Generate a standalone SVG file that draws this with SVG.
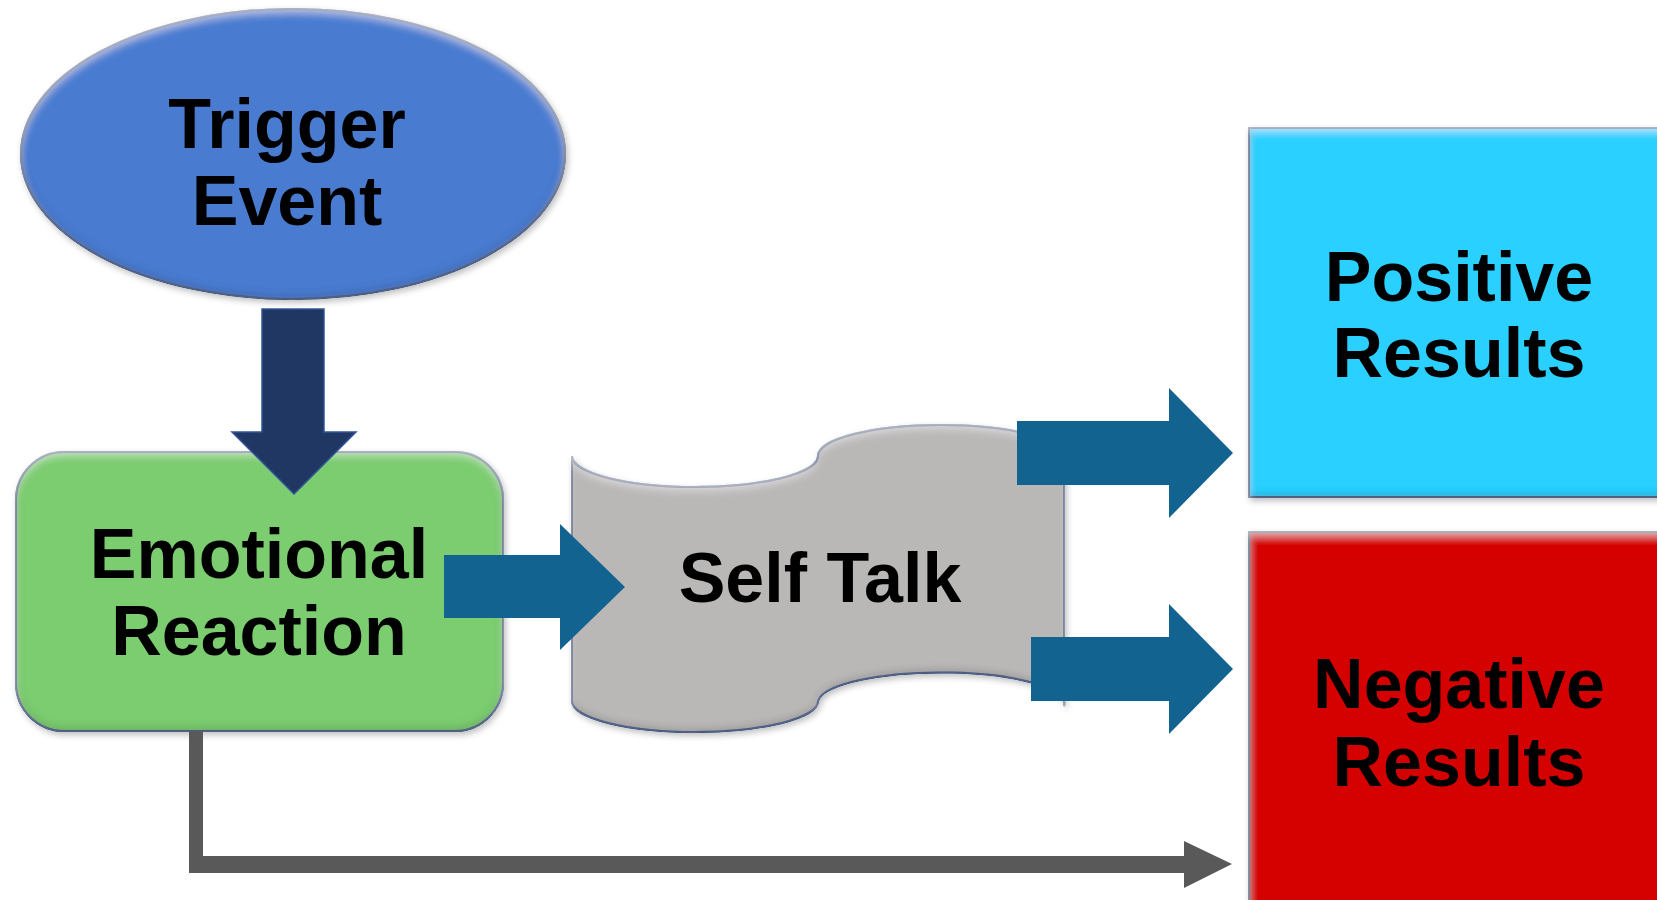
<svg xmlns="http://www.w3.org/2000/svg" width="1657" height="900" viewBox="0 0 1657 900">
<style>
.lbl{font-family:"Liberation Sans",Arial,sans-serif;font-weight:bold;font-size:70px;fill:#000;text-anchor:middle}
.node{stroke:#34558A;stroke-width:2}
.blue{fill:#136391}
</style>
<defs>
<filter id="bevel" x="-5%" y="-5%" width="110%" height="115%">
<feGaussianBlur in="SourceAlpha" stdDeviation="4" result="b"/>
<feOffset in="b" dy="-3" result="bo"/>
<feComposite in="SourceAlpha" in2="bo" operator="arithmetic" k2="1" k3="-1" result="edgeDark"/>
<feFlood flood-color="#000" flood-opacity="0.45"/>
<feComposite in2="edgeDark" operator="in" result="dark"/>
<feOffset in="b" dy="4" result="bo2"/>
<feComposite in="SourceAlpha" in2="bo2" operator="arithmetic" k2="1" k3="-1" result="edgeLight"/>
<feFlood flood-color="#fff" flood-opacity="0.5"/>
<feComposite in2="edgeLight" operator="in" result="light"/>
<feGaussianBlur in="SourceAlpha" stdDeviation="3" result="sh"/>
<feOffset in="sh" dx="2" dy="3" result="sho"/>
<feFlood flood-color="#000" flood-opacity="0.25"/>
<feComposite in2="sho" operator="in" result="drop"/>
<feMerge><feMergeNode in="drop"/><feMergeNode in="SourceGraphic"/><feMergeNode in="dark"/><feMergeNode in="light"/></feMerge>
</filter>
</defs>

<g id="trigger-event">
<ellipse class="node" cx="293" cy="154" rx="272" ry="145" fill="#4A7BD0" filter="url(#bevel)"/>
<text class="lbl" x="287" y="148">Trigger</text>
<text class="lbl" x="287" y="225">Event</text>
</g>

<g id="emotional-reaction">
<rect class="node" x="16" y="452" width="487" height="279" rx="48" ry="48" fill="#7BCC70" filter="url(#bevel)"/>
<text class="lbl" x="259" y="578">Emotional</text>
<text class="lbl" x="259" y="655">Reaction</text>
</g>

<g id="self-talk">
<path class="node" fill="#BAB7B7" filter="url(#bevel)" d="M572,456 A123,31 0 0 0 818,456 A123,31 0 0 1 1064,456 L1064,706 A123,31 0 0 0 818,701 A123,31 0 0 1 572,701 Z"/>
<text class="lbl" x="820" y="602">Self Talk</text>
</g>

<g id="positive-results">
<rect class="node" x="1249" y="128" width="420" height="369" fill="#29D0FF" filter="url(#bevel)"/>
<text class="lbl" x="1459" y="301">Positive</text>
<text class="lbl" x="1459" y="377">Results</text>
</g>

<g id="negative-results">
<rect class="node" x="1249" y="532" width="420" height="380" fill="#D50606" filter="url(#bevel)"/>
<text class="lbl" x="1459" y="708">Negative</text>
<text class="lbl" x="1459" y="786">Results</text>
</g>

<g id="connectors">
<polygon id="arrow-trigger-emotional" fill="#213763" stroke="#2F5597" stroke-width="1.5" points="262,309 324,309 324,432 356,432 294,494 232,432 262,432"/>
<polygon id="arrow-emotional-direct" fill="#595959" points="189,731 203,731 203,856 1184,856 1184,841 1232,864 1184,888 1184,873 189,873"/>
<polygon id="arrow-emotional-self" class="blue" points="444,555 560,555 560,524 625,587 560,650 560,618 444,618"/>
<polygon id="arrow-self-positive" class="blue" points="1017,421 1169,421 1169,388 1233,453 1169,518 1169,485 1017,485"/>
<polygon id="arrow-self-negative" class="blue" points="1031,637 1169,637 1169,604 1233,669 1169,734 1169,701 1031,701"/>
</g>
</svg>
